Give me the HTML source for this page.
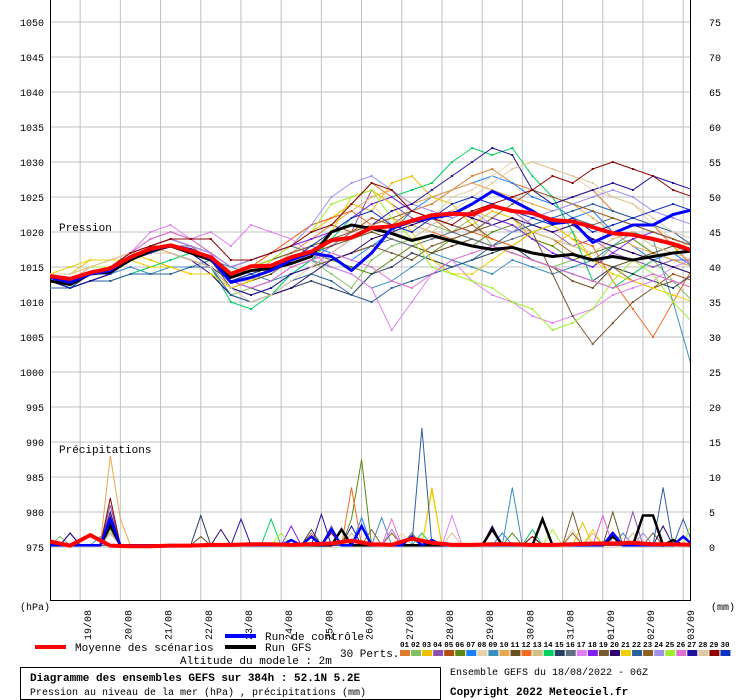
<!DOCTYPE html>
<html><head><meta charset="utf-8"><style>
html,body{margin:0;padding:0;background:#fff;}
svg{display:block;font-family:"Liberation Mono","DejaVu Sans Mono",monospace;}
</style></head><body>
<svg id="chart" width="740" height="700" viewBox="0 0 740 700" xmlns="http://www.w3.org/2000/svg">
<defs><clipPath id="clip"><rect x="50" y="0" width="640" height="600"/></clipPath></defs>
<rect x="0" y="0" width="740" height="700" fill="#fff"/>
<g id="grid"></g>
<g id="axes"></g>
<g id="series" clip-path="url(#clip)"></g>
<text x="59" y="231" font-size="11">Pression</text>
<text x="59" y="453" font-size="11">Précipitations</text>
<text x="20" y="610" font-size="10">(hPa)</text>
<text x="711" y="610" font-size="10">(mm)</text>
<g>
<rect x="35" y="645" width="31" height="4" fill="#ff0000"/>
<text x="75" y="651" font-size="11">Moyenne des scénarios</text>
<rect x="225" y="634" width="31" height="4" fill="#0000ff"/>
<text x="265" y="640" font-size="11">Run de contrôle</text>
<rect x="225" y="645" width="31" height="4" fill="#000"/>
<text x="265" y="651" font-size="11">Run GFS</text>
<text x="340" y="657" font-size="11">30 Perts.</text>
<text x="180" y="664" font-size="11">Altitude du modele : 2m</text>
<g id="pertlegend"></g>
</g>
<rect x="20.5" y="667.5" width="420" height="32" fill="none" stroke="#000"/>
<text x="30" y="681" font-size="11" font-weight="bold">Diagramme des ensembles GEFS sur 384h : 52.1N 5.2E</text>
<text x="30" y="695" font-size="10">Pression au niveau de la mer (hPa) , précipitations (mm)</text>
<text x="450" y="675" font-size="10">Ensemble GEFS du 18/08/2022 - 06Z</text>
<text x="450" y="695" font-size="11" font-weight="bold">Copyright 2022 Meteociel.fr</text>
</svg>
<script>
const dates=["19/08","20/08","21/08","22/08","23/08","24/08","25/08","26/08","27/08","28/08","29/08","30/08","31/08","01/09","02/09","03/09"];
const leftTicks=[1050,1045,1040,1035,1030,1025,1020,1015,1010,1005,1000,995,990,985,980,975];
const rightTicks=[75,70,65,60,55,50,45,40,35,30,25,20,15,10,5,0];
const pertColors=["#e07b2e","#7fc060","#f0c000","#9050b0","#b05010","#5a8a10","#1a80ff","#e8d4a8","#3a8ec0","#e8a850","#6a5020","#f06a20","#d0c080","#00d060","#254060","#607080","#e080f0","#8020f0","#7a5a30","#300070","#f0d000","#2a60a0","#906020","#a090f0","#a0f030","#e070d0","#2010a0","#e0c8a0","#900000","#1030c0"];
const meanP=[1013.7,1013.3,1014.2,1014.8,1016.4,1017.6,1018.1,1017.3,1016.4,1014.0,1015.1,1015.2,1016.4,1017.2,1018.8,1019.2,1020.6,1020.8,1021.6,1022.4,1022.6,1022.5,1023.7,1023,1022.7,1021.7,1021.5,1020.7,1019.8,1019.6,1019,1018.3,1017.3];
const controlP=[1013.5,1012.8,1014,1014.5,1016.5,1017.5,1018,1017.5,1016.2,1012.8,1013.5,1014.5,1016,1017,1016.5,1014.5,1017,1020.5,1021.5,1022,1022.5,1024,1025.8,1024.5,1023,1021.2,1021.5,1018.5,1019.8,1021,1021,1022.5,1023.2];
const gfsP=[1013,1012.5,1014,1014.3,1016,1017.3,1018,1017,1016,1013.5,1014.5,1014.8,1015.5,1016.5,1020,1021,1020.5,1019.8,1018.8,1019.5,1018.7,1018,1017.5,1017.8,1017,1016.5,1016.8,1016,1016.5,1016,1016.5,1017,1017.3];
const p01=[1013,1013,1014,1015,1017,1018,1018,1017,1016,1014,1015,1017,1019,1021,1022,1024,1027,1025,1023,1024,1026,1028,1029,1027,1026,1024,1025,1026,1023,1022,1021,1018,1015];
const p02=[1013,1012,1014,1014,1016,1017,1017,1016,1015,1011,1012,1013,1015,1016,1014,1012,1016,1018,1019,1021,1020,1022,1018,1017,1016,1015,1016,1015,1018,1017,1016,1013,1010];
const p03=[1014,1014,1016,1016,1017,1016,1015,1014,1014,1012,1013,1016,1018,1020,1022,1024,1023,1027,1028,1025,1024,1021,1023,1022,1019,1018,1020,1016,1015,1014,1016,1017,1019];
const p04=[1013,1013,1014,1015,1017,1019,1020,1019,1017,1013,1012,1013,1015,1016,1018,1020,1026,1024,1022,1021,1023,1022,1024,1023,1021,1020,1018,1019,1017,1016,1015,1016,1016];
const p05=[1014,1013,1015,1015,1017,1018,1019,1018,1016,1014,1015,1016,1017,1019,1021,1020,1022,1021,1023,1022,1020,1021,1019,1018,1020,1019,1017,1016,1015,1013,1012,1014,1013];
const p06=[1013,1012,1013,1014,1016,1017,1018,1017,1016,1013,1014,1015,1016,1017,1016,1015,1014,1016,1018,1017,1019,1018,1020,1021,1019,1018,1016,1017,1018,1019,1017,1016,1015];
const p07=[1013,1013,1014,1015,1016,1018,1019,1018,1016,1014,1015,1016,1017,1018,1017,1016,1018,1020,1023,1025,1026,1027,1028,1027,1025,1024,1022,1023,1020,1018,1016,1017,1015];
const p08=[1014,1013,1015,1016,1017,1018,1018,1017,1016,1014,1013,1014,1016,1018,1020,1022,1024,1021,1020,1022,1025,1026,1028,1030,1030,1029,1028,1026,1025,1024,1021,1019,1017];
const p09=[1013,1013,1014,1014,1015,1014,1015,1015,1016,1015,1014,1013,1014,1016,1015,1014,1012,1013,1015,1017,1016,1015,1014,1016,1015,1014,1015,1016,1018,1020,1019,1010,1000];
const p10=[1014,1014,1015,1016,1017,1018,1017,1016,1015,1013,1014,1015,1017,1019,1021,1023,1025,1026,1024,1025,1026,1027,1026,1025,1024,1023,1024,1022,1020,1018,1017,1016,1015];
const p11=[1013,1012,1013,1014,1016,1017,1018,1017,1016,1012,1013,1014,1016,1017,1018,1019,1020,1019,1018,1017,1018,1019,1018,1017,1016,1015,1013,1012,1015,1016,1017,1018,1017];
const p12=[1014,1013,1014,1015,1017,1018,1019,1018,1016,1014,1015,1017,1019,1021,1022,1023,1021,1022,1021,1020,1019,1020,1019,1018,1020,1021,1019,1018,1013,1009,1005,1010,1015];
const p13=[1013,1013,1015,1015,1016,1017,1017,1016,1015,1013,1013,1015,1017,1018,1019,1020,1021,1022,1021,1020,1022,1023,1022,1021,1020,1019,1018,1017,1019,1020,1018,1017,1016];
const p14=[1013,1012,1013,1013,1014,1015,1016,1017,1015,1010,1009,1011,1014,1016,1019,1022,1024,1025,1026,1027,1030,1032,1031,1032,1028,1025,1020,1013,1012,1014,1016,1015,1014];
const p15=[1013,1012,1013,1014,1016,1017,1018,1017,1015,1013,1012,1011,1012,1013,1012,1011,1014,1015,1017,1016,1015,1016,1017,1018,1016,1015,1014,1013,1015,1014,1013,1012,1014];
const p16=[1013,1013,1014,1015,1016,1017,1018,1018,1017,1015,1016,1017,1018,1017,1016,1017,1018,1019,1018,1019,1020,1019,1018,1019,1020,1021,1022,1021,1022,1021,1020,1019,1018];
const p17=[1013,1013,1014,1015,1017,1020,1021,1019,1020,1018,1021,1020,1019,1017,1015,1014,1012,1006,1010,1014,1016,1013,1011,1010,1008,1007,1008,1009,1011,1012,1013,1015,1016];
const p18=[1013,1013,1014,1015,1017,1018,1019,1018,1017,1015,1016,1017,1018,1019,1020,1022,1024,1025,1023,1022,1021,1020,1022,1021,1019,1017,1016,1015,1017,1019,1020,1019,1018];
const p19=[1013,1012,1013,1014,1016,1017,1017,1016,1015,1012,1011,1012,1014,1015,1016,1017,1018,1017,1016,1018,1019,1020,1021,1022,1020,1014,1008,1004,1007,1010,1012,1013,1012];
const p20=[1013,1013,1014,1015,1016,1017,1017,1016,1014,1011,1010,1011,1012,1014,1016,1017,1019,1020,1021,1022,1023,1022,1021,1022,1021,1020,1021,1019,1018,1017,1016,1015,1014];
const p21=[1014,1015,1016,1016,1016,1015,1015,1014,1014,1012,1013,1015,1016,1018,1020,1025,1026,1024,1020,1016,1014,1014,1016,1018,1020,1021,1019,1016,1014,1013,1012,1011,1010];
const p22=[1012,1012,1013,1013,1014,1014,1014,1015,1015,1011,1010,1011,1013,1014,1013,1011,1010,1012,1013,1014,1015,1016,1018,1020,1021,1022,1023,1024,1023,1022,1021,1020,1018];
const p23=[1013,1013,1014,1015,1016,1018,1018,1017,1016,1014,1015,1016,1017,1018,1019,1020,1021,1022,1023,1022,1021,1020,1022,1024,1026,1025,1024,1023,1022,1021,1020,1019,1018];
const p24=[1013,1013,1014,1015,1017,1018,1019,1018,1017,1015,1016,1017,1018,1021,1025,1027,1028,1026,1024,1023,1022,1023,1021,1020,1022,1023,1024,1025,1026,1025,1023,1022,1021];
const p25=[1014,1014,1015,1015,1016,1017,1018,1017,1016,1014,1015,1016,1018,1020,1024,1025,1026,1022,1019,1015,1014,1013,1012,1010,1009,1006,1007,1009,1013,1016,1014,1010,1007];
const p26=[1013,1013,1014,1015,1017,1019,1020,1019,1017,1013,1012,1013,1015,1016,1017,1016,1015,1013,1012,1014,1016,1017,1018,1017,1016,1015,1014,1013,1012,1013,1014,1013,1012];
const p27=[1013,1012,1013,1014,1016,1017,1018,1017,1015,1012,1011,1012,1014,1015,1017,1019,1021,1023,1024,1026,1028,1030,1032,1031,1026,1024,1025,1026,1027,1026,1028,1027,1026];
const p28=[1014,1014,1015,1016,1017,1017,1017,1016,1015,1012,1010,1011,1013,1015,1017,1019,1021,1020,1019,1021,1023,1025,1027,1029,1030,1029,1028,1027,1025,1024,1022,1020,1019];
const p29=[1013,1013,1014,1015,1017,1018,1019,1019,1019,1016,1016,1017,1018,1020,1021,1024,1027,1026,1023,1022,1021,1023,1024,1025,1026,1028,1027,1029,1030,1029,1028,1026,1025];
const p30=[1013,1012,1014,1014,1016,1017,1018,1017,1016,1013,1014,1015,1016,1018,1020,1022,1023,1021,1020,1022,1024,1025,1024,1023,1022,1021,1022,1020,1021,1022,1023,1024,1023];
const perts=[p01,p02,p03,p04,p05,p06,p07,p08,p09,p10,p11,p12,p13,p14,p15,p16,p17,p18,p19,p20,p21,p22,p23,p24,p25,p26,p27,p28,p29,p30];
// precipitation (mm) per member: [6h step, amount] spikes; others small
const precipSpikes=[
 [[2,2],[6,3],[30,2],[58,2]],
 [[1,1.5],[6,2.5],[36,2]],
 [[6,3],[38,8.5],[53,3.5],[59,2]],
 [[6,6],[28,3],[58,5]],
 [[2,2],[6,3.5],[34,2]],
 [[6,2.5],[30,4],[31,12.5],[46,2]],
 [[6,4],[31,4.2],[45,2]],
 [[6,2],[35,2],[52,2.5]],
 [[5,1.5],[33,4.2],[46,8.5],[57,2]],
 [[6,13],[7,4],[40,2]],
 [[6,2],[15,1.5],[56,5]],
 [[6,4.5],[30,8.5],[26,2]],
 [[6,2],[30,2],[54,2]],
 [[6,3],[22,4],[37,2],[48,2.5]],
 [[2,2],[15,4.5],[26,2.5]],
 [[6,2],[36,2],[48,1.5]],
 [[6,2.5],[34,2.5],[40,4.5],[55,4.5]],
 [[6,3],[24,3],[56,2]],
 [[6,2],[52,5],[60,2]],
 [[6,2.5],[17,2.5],[44,3],[61,3]],
 [[6,3],[38,8],[54,2.5]],
 [[6,2],[37,17],[61,8.5],[63,4]],
 [[6,2],[32,2.5],[52,2]],
 [[6,2],[34,2.5],[59,2]],
 [[6,2.5],[23,2],[50,2.5],[64,4]],
 [[6,2],[34,4],[55,4.5]],
 [[2,2],[6,5],[19,4],[27,4.7],[30,3]],
 [[6,2],[40,2],[58,2]],
 [[6,7],[28,2],[48,1.5]],
 [[6,3],[31,3],[56,2]]
];
const controlPrecip=[[6,4],[24,1],[26,1.5],[28,2.5],[31,3],[36,1.5],[38,1],[56,2],[63,1.5]];
const gfsPrecip=[[6,3],[29,2.5],[44,2.5],[49,4],[56,1.5],[59,4.5],[60,4.5],[62,1]];
const meanPrecip=[0.8,0.2,1.7,0.2,0.1,0.1,0.2,0.2,0.3,0.3,0.4,0.4,0.3,0.4,0.5,0.9,0.4,0.3,1.2,0.6,0.3,0.3,0.4,0.4,0.3,0.3,0.4,0.5,0.5,0.6,0.4,0.4,0.3];

const NS='http://www.w3.org/2000/svg';
const X0=50, STEP6=10.05;
const xs=k=>X0+k*STEP6;
const yP=v=>547-(v-975)*7;
const yR=v=>547-v*7;
function mk(tag,attrs,parent){const e=document.createElementNS(NS,tag);for(const k in attrs)e.setAttribute(k,attrs[k]);parent.appendChild(e);return e;}
const grid=document.getElementById('grid'),axes=document.getElementById('axes'),ser=document.getElementById('series');

leftTicks.forEach((t,i)=>{
  const y=yP(t);
  const l=mk('line',{x1:50,x2:690,y1:y,y2:y,stroke:'#c0c0c0'},grid);
  
  
  const tl=mk('text',{x:44,y:y+4,'font-size':10,'text-anchor':'end'},axes);
  tl.textContent=t;
  
  
  const tr=mk('text',{x:709,y:y+4,'font-size':10},axes);
  tr.textContent=rightTicks[i];
  
  
});
dates.forEach((d,i)=>{
  const x=xs(3+i*4);
  const l=mk('line',{x1:x,x2:x,y1:0,y2:600,stroke:'#c0c0c0'},grid);
  
  
  const t=mk('text',{x:0,y:0,'font-size':10,transform:`translate(${x+11},640) rotate(-90)`},axes);
  t.textContent=d;
  
  
});
const frame=mk('path',{d:'M50.5,0 V600.5 H690.5 V0',fill:'none',stroke:'#000'},axes);



function pLine(arr,color,w,name,markers){
  const pts=arr.map((v,i)=>xs(i*2).toFixed(1)+','+yP(v).toFixed(1)).join(' ');
  const pl=mk('polyline',{points:pts,fill:'none',stroke:color,'stroke-width':w,'stroke-linejoin':'round'},ser);
  
  
  if(markers){arr.forEach((v,i)=>{const m=mk('rect',{x:xs(i*2)-1,y:yP(v)-1,width:2,height:2,fill:color},ser);
    
    });}
}
function rLine(spikes,color,w,name){
  const vals=new Array(65).fill(0.25);
  spikes.forEach(s=>{vals[s[0]]=s[1];});
  const pts=vals.map((v,k)=>xs(k).toFixed(1)+','+yR(v).toFixed(1)).join(' ');
  const pl=mk('polyline',{points:pts,fill:'none',stroke:color,'stroke-width':w},ser);
  
  
}
perts.forEach((a,i)=>pLine(a,pertColors[i],1,'pressure-pert-'+(i+1),true));
precipSpikes.forEach((a,i)=>rLine(a,pertColors[i],1,'precip-pert-'+(i+1)));
rLine(gfsPrecip,'#000',2.5,'precip-gfs');
rLine(controlPrecip,'#0000ff',2.5,'precip-control');
pLine(gfsP,'#000',3,'pressure-gfs',false);
pLine(controlP,'#0000ff',3,'pressure-control',false);
pLine(meanP,'#ff0000',4,'pressure-mean',false);
(function(){
  const pts=meanPrecip.map((v,i)=>xs(i*2).toFixed(1)+','+yR(v).toFixed(1)).join(' ');
  const pl=mk('polyline',{points:pts,fill:'none',stroke:'#ff0000','stroke-width':4},ser);
  
  
})();
const pg=document.getElementById('pertlegend');
pertColors.forEach((c,i)=>{
  const x=400+i*11.05;
  const t=mk('text',{x:x,y:647,'font-size':7.5,'font-weight':'bold'},pg);
  t.textContent=String(i+1).padStart(2,'0');
  
  
  const r=mk('rect',{x:x,y:650,width:10,height:6,fill:c},pg);
  
  
});
</script>
</body></html>
